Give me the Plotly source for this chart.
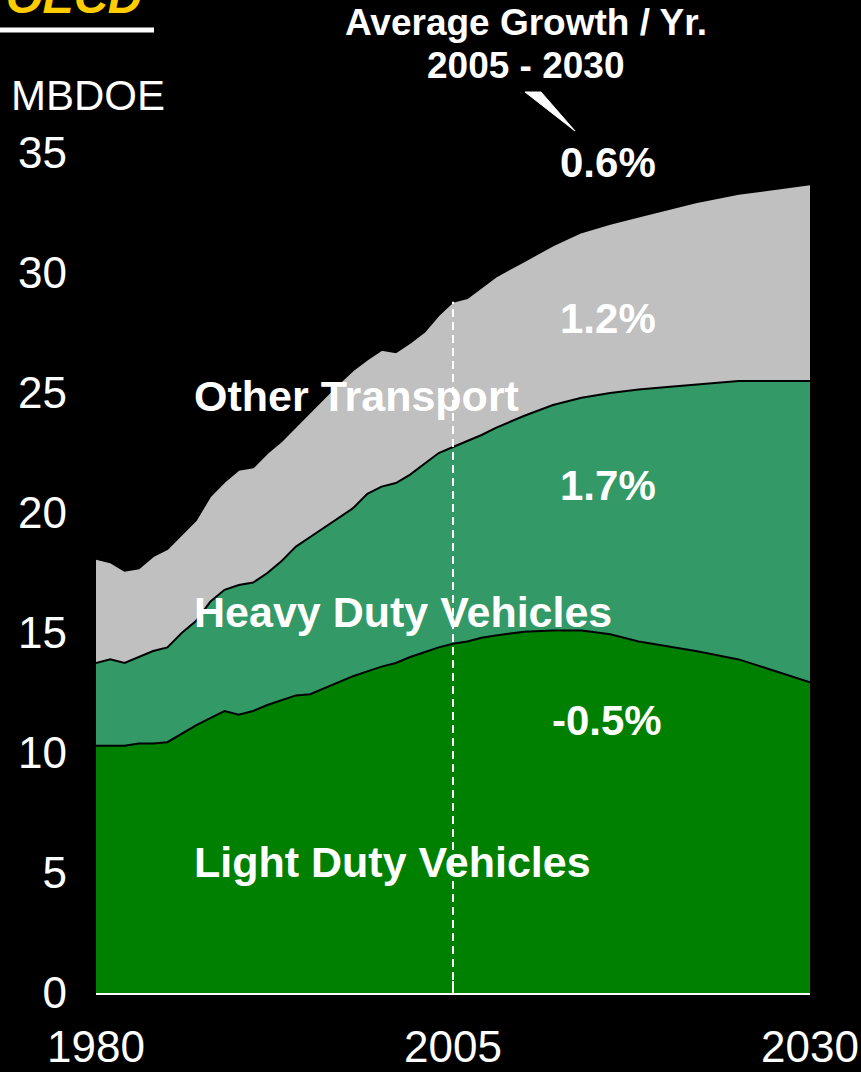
import plotly.graph_objects as go

# ---- data (MBDOE, OECD transportation demand) ----
years = [1980, 1981, 1982, 1983, 1984, 1985, 1986, 1987, 1988, 1989,
         1990, 1991, 1992, 1993, 1994, 1995, 1996, 1997, 1998, 1999,
         2000, 2001, 2002, 2003, 2004, 2005, 2006, 2007, 2008, 2010,
         2012, 2014, 2016, 2018, 2020, 2022, 2025, 2030]

light_duty = [10.3, 10.3, 10.3, 10.4, 10.4, 10.45, 10.8, 11.15, 11.45, 11.75,
              11.6, 11.75, 12.0, 12.2, 12.4, 12.45, 12.7, 12.95, 13.2, 13.4,
              13.6, 13.75, 14.0, 14.2, 14.4, 14.55, 14.65, 14.8, 14.9, 15.05,
              15.1, 15.1, 14.95, 14.65, 14.45, 14.25, 13.9, 12.95]

heavy_duty = [3.45, 3.6, 3.45, 3.6, 3.85, 3.95, 4.2, 4.35, 4.85, 5.05,
              5.4, 5.35, 5.5, 5.8, 6.2, 6.55, 6.7, 6.85, 7.0, 7.4,
              7.5, 7.5, 7.6, 7.85, 8.1, 8.2, 8.35, 8.45, 8.65, 9.0,
              9.4, 9.7, 10.05, 10.5, 10.8, 11.1, 11.6, 12.55]

other_transport = [4.35, 4.05, 3.85, 3.7, 3.95, 4.1, 4.1, 4.2, 4.4, 4.5,
                   4.8, 4.8, 5.0, 5.0, 5.0, 5.2, 5.4, 5.6, 5.75, 5.6,
                   5.7, 5.45, 5.5, 5.5, 5.75, 6.05, 5.95, 6.15, 6.3, 6.45,
                   6.65, 6.9, 7.05, 7.2, 7.4, 7.6, 7.8, 8.2]

series_names = ["Light Duty Vehicles", "Heavy Duty Vehicles", "Other Transport"]
series_colors = ["#008000", "#339966", "#C0C0C0"]
growth_labels = ["-0.5%", "1.7%", "1.2%", "0.6%"]

x_ticks = [1980, 2005, 2030]
y_ticks = [0, 5, 10, 15, 20, 25, 30, 35]
split_year = 2005

FONT = "Liberation Sans, Arial, sans-serif"

fig = go.Figure()
for name, vals, col in zip(series_names, [light_duty, heavy_duty, other_transport], series_colors):
    fig.add_trace(go.Scatter(
        x=years, y=vals, name=name, mode="lines", stackgroup="one",
        line=dict(color="black", width=2), fillcolor=col, hoverinfo="x+y+name"))

# total at split year for the dashed marker
i5 = years.index(split_year)
total_split = light_duty[i5] + heavy_duty[i5] + other_transport[i5]

L, R, T, B = 96, 51, 153, 79
W, H = 861, 1072
PW, PH = W - L - R, H - T - B


def px(xp):
    return (xp - L) / PW


def py(yp):
    return (H - B - yp) / PH


shapes = [
    dict(type="line", xref="x", yref="y", x0=split_year, x1=split_year, y0=0, y1=total_split,
         line=dict(color="white", width=2, dash="8px,5px"), layer="above"),
    dict(type="line", xref="paper", yref="paper", x0=px(0), x1=px(154), y0=py(30), y1=py(30),
         line=dict(color="white", width=5)),
    dict(type="path", xref="paper", yref="paper",
         path=f"M {px(525)},{py(92)} L {px(541)},{py(92)} L {px(575)},{py(131)} Z",
         fillcolor="white", line=dict(color="white", width=1)),
]


def ann(text, x, y, size, xanchor="center", yanchor="middle", color="white"):
    return dict(text=text, xref="paper", yref="paper", x=px(x), y=py(y), showarrow=False,
                xanchor=xanchor, yanchor=yanchor, font=dict(family=FONT, size=size, color=color))


annotations = [
    ann("<b><i>OECD</i></b>", 4, 25, 47, xanchor="left", yanchor="bottom", color="#FFCC00"),
    ann("MBDOE", 9, 95, 42, xanchor="left"),
    ann("<b>Average Growth / Yr.</b>", 526, 22, 37),
    ann("<b>2005 - 2030</b>", 526, 66, 37),
    ann("<b>" + growth_labels[3] + "</b>", 608, 163, 42),
    ann("<b>" + growth_labels[2] + "</b>", 608, 318, 42),
    ann("<b>" + growth_labels[1] + "</b>", 608, 485, 42),
    ann("<b>" + growth_labels[0] + "</b>", 607, 720, 42),
    ann("<b>" + series_names[2] + "</b>", 192, 396, 43, xanchor="left"),
    ann("<b>" + series_names[1] + "</b>", 192, 612, 43, xanchor="left"),
    ann("<b>" + series_names[0] + "</b>", 192, 862, 43, xanchor="left"),
]

fig.update_layout(
    width=W, height=H, autosize=False,
    margin=dict(l=L, r=R, t=T, b=B),
    paper_bgcolor="black", plot_bgcolor="black",
    showlegend=False,
    font=dict(family=FONT, color="white"),
    shapes=shapes, annotations=annotations,
    xaxis=dict(range=[1980, 2030], tickvals=x_ticks, ticktext=[str(v) for v in x_ticks],
               showgrid=False, zeroline=False, showline=True, linecolor="white", linewidth=2,
               ticks="inside", ticklen=12, tickwidth=2, tickcolor="white", automargin=False,
               tickfont=dict(size=44, color="white", family=FONT), ticklabelstandoff=14,
               layer="above traces"),
    yaxis=dict(range=[0, 35], tickvals=y_ticks, showgrid=False, zeroline=False, showline=False,
               ticks="", automargin=False,
               tickfont=dict(size=44, color="white", family=FONT), ticklabelstandoff=28),
)

fig.write_html(
    "out.html",
    config={"responsive": False, "displayModeBar": False},
    post_script="document.body.style.margin='0px';document.body.style.padding='0px';"
                "document.body.style.overflow='hidden';document.body.style.background='black';",
)
